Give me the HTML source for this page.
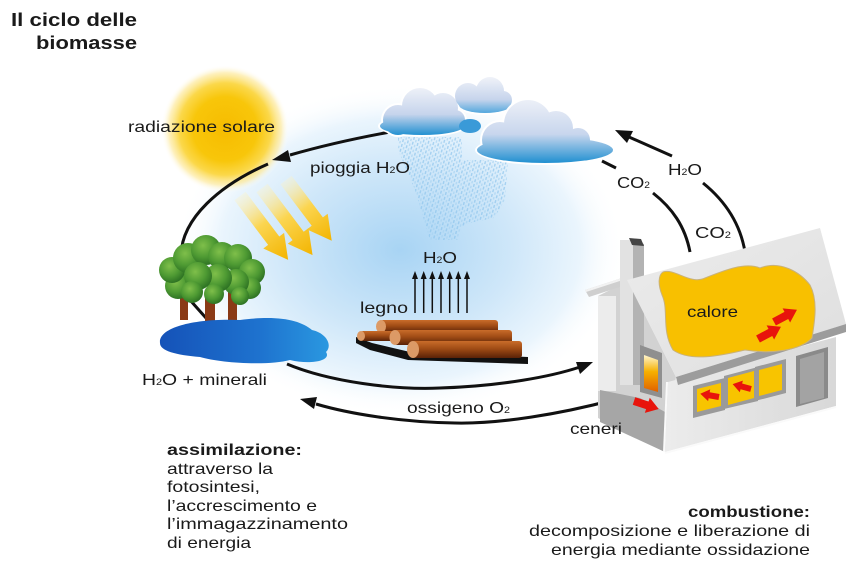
<!DOCTYPE html>
<html><head><meta charset="utf-8">
<style>
html,body{margin:0;padding:0;background:#fff;}
svg{display:block;}
text{font-family:"Liberation Sans",sans-serif;fill:#1a1a1a;}
</style></head>
<body>
<svg width="855" height="576" viewBox="0 0 855 576" xmlns="http://www.w3.org/2000/svg">
<defs>
  <radialGradient id="glow" cx="0.5" cy="0.5" r="0.5">
    <stop offset="0" stop-color="#a8d4f4"/>
    <stop offset="0.5" stop-color="#cfe7f9"/>
    <stop offset="0.8" stop-color="#eaf5fd"/>
    <stop offset="1" stop-color="#ffffff" stop-opacity="0"/>
  </radialGradient>
  <radialGradient id="sun" cx="0.5" cy="0.5" r="0.5">
    <stop offset="0" stop-color="#f6bc00"/>
    <stop offset="0.5" stop-color="#f8c60a"/>
    <stop offset="0.72" stop-color="#fbd84a"/>
    <stop offset="0.88" stop-color="#fdeaa0" stop-opacity="0.7"/>
    <stop offset="1" stop-color="#ffffff" stop-opacity="0"/>
  </radialGradient>
  <linearGradient id="ray" x1="0" y1="0" x2="1" y2="0">
    <stop offset="0" stop-color="#fff3c0" stop-opacity="0.3"/>
    <stop offset="0.45" stop-color="#fbd550"/>
    <stop offset="1" stop-color="#f3b400"/>
  </linearGradient>
  <linearGradient id="c1" gradientUnits="userSpaceOnUse" x1="0" y1="88" x2="0" y2="136">
    <stop offset="0" stop-color="#eef1f8"/><stop offset="0.55" stop-color="#c6d4ec"/><stop offset="1" stop-color="#1a8dd0"/>
  </linearGradient>
  <linearGradient id="c2" gradientUnits="userSpaceOnUse" x1="0" y1="78" x2="0" y2="114">
    <stop offset="0" stop-color="#eef1f8"/><stop offset="0.6" stop-color="#c6d4ec"/><stop offset="1" stop-color="#4aa4dc"/>
  </linearGradient>
  <linearGradient id="c3" gradientUnits="userSpaceOnUse" x1="0" y1="98" x2="0" y2="164">
    <stop offset="0" stop-color="#eef1f8"/><stop offset="0.55" stop-color="#c8d6ed"/><stop offset="1" stop-color="#1a8dd0"/>
  </linearGradient>
  <pattern id="rain" width="5" height="5" patternUnits="userSpaceOnUse" patternTransform="rotate(15)">
    <rect x="0" y="0" width="1.4" height="3" fill="#8cc4ec"/>
    <rect x="2.5" y="2.5" width="1.4" height="3" fill="#a6d2f1"/>
  </pattern>
  <radialGradient id="leaf" cx="0.4" cy="0.35" r="0.65">
    <stop offset="0" stop-color="#7fbf4a"/><stop offset="0.6" stop-color="#4e9a33"/><stop offset="1" stop-color="#2f7424"/>
  </radialGradient>
  <linearGradient id="pond" x1="0" y1="0" x2="1" y2="0">
    <stop offset="0" stop-color="#1552b8"/><stop offset="0.6" stop-color="#1e73cf"/><stop offset="1" stop-color="#2a98e0"/>
  </linearGradient>
  <linearGradient id="log" x1="0" y1="0" x2="0" y2="1">
    <stop offset="0" stop-color="#c96c2a"/><stop offset="0.45" stop-color="#a04c15"/><stop offset="1" stop-color="#5a2207"/>
  </linearGradient>
  <linearGradient id="fire" x1="0" y1="0" x2="0" y2="1">
    <stop offset="0" stop-color="#fff6d0"/><stop offset="0.45" stop-color="#f6b000"/><stop offset="1" stop-color="#e06000"/>
  </linearGradient>
  <linearGradient id="wall" x1="0" y1="0" x2="1" y2="0">
    <stop offset="0" stop-color="#ececec"/><stop offset="1" stop-color="#d8d8d8"/>
  </linearGradient>
  <linearGradient id="roof" x1="0" y1="0" x2="1" y2="1">
    <stop offset="0" stop-color="#ececec"/><stop offset="1" stop-color="#dedede"/>
  </linearGradient>
</defs>

<!-- background glow -->
<ellipse cx="400" cy="250" rx="225" ry="165" fill="url(#glow)"/>

<!-- sun -->
<circle cx="225" cy="129" r="64" fill="url(#sun)"/>

<!-- sun rays -->
<g fill="url(#ray)">
  <polygon transform="translate(240,196) rotate(53)" points="0,-7 56,-7 56,-13 80,0 56,13 56,7 0,7"/>
  <polygon transform="translate(262,188) rotate(53)" points="0,-7 60,-7 60,-13 84,0 60,13 60,7 0,7"/>
  <polygon transform="translate(286,180) rotate(53)" points="0,-7 52,-7 52,-13 76,0 52,13 52,7 0,7"/>
</g>

<!-- cycle connectors -->
<g fill="none" stroke="#111" stroke-width="3" stroke-linecap="butt">
  <path d="M390 132 Q335 142 290 155"/>
  <path d="M268 164 C222 184 180 218 181 258 L190 300 L206 318"/>
  <path d="M287 364 C330 382 395 390 440 388 C500 386 550 377 580 367"/>
  <path d="M613 400 C560 414 500 424 455 423 C400 422 350 414 316 404"/>
  <path d="M672 156 L629 137"/>
  <path d="M703 183 C724 200 740 222 745 252"/>
  <path d="M602 161 L616 168"/>
  <path d="M653 193 C672 208 685 226 690 252"/>
</g>
<g fill="#111">
  <polygon points="272,160 291,162 288,150"/>
  <polygon points="593,362 576,362 580,374"/>
  <polygon points="300,399 317,397 314,409"/>
  <polygon points="615,130 633,131 627,143"/>
</g>

<!-- trees -->
<g fill="#8a3a16">
  <rect x="180" y="292" width="8" height="28"/>
  <rect x="205" y="295" width="10" height="28"/>
  <rect x="228" y="290" width="9" height="30"/>
</g>
<g fill="url(#leaf)">
  <circle cx="178" cy="286" r="13"/>
  <circle cx="172" cy="270" r="13"/>
  <circle cx="188" cy="258" r="15"/>
  <circle cx="206" cy="250" r="15"/>
  <circle cx="222" cy="256" r="14"/>
  <circle cx="238" cy="258" r="14"/>
  <circle cx="252" cy="272" r="13"/>
  <circle cx="250" cy="288" r="11"/>
  <circle cx="236" cy="282" r="13"/>
  <circle cx="218" cy="278" r="14"/>
  <circle cx="198" cy="276" r="14"/>
  <circle cx="192" cy="292" r="11"/>
  <circle cx="214" cy="294" r="10"/>
  <circle cx="240" cy="296" r="9"/>
</g>

<!-- pond -->
<path d="M160 343 C158 326 200 318 240 320 C278 315 300 320 312 330 C326 333 333 345 326 352 C332 361 310 365 290 360 C268 366 220 363 200 357 C176 355 160 351 160 343 Z" fill="url(#pond)"/>

<!-- rain -->
<polygon points="398,137 462,137 462,160 508,160 505,200 494,218 474,222 462,226 458,240 430,240 415,190 398,150" fill="url(#rain)" opacity="0.7"/>

<!-- clouds -->
<g fill="#fff">
  <circle cx="398" cy="120" r="17"/><circle cx="420" cy="106" r="20"/><circle cx="443" cy="108" r="17"/><circle cx="455" cy="120" r="12"/><ellipse cx="422" cy="126" rx="44" ry="11"/>
  <circle cx="468" cy="96" r="15"/><circle cx="490" cy="91" r="16"/><circle cx="503" cy="100" r="11"/><ellipse cx="485" cy="105" rx="28" ry="10"/>
</g>
<g fill="url(#c1)">
  <circle cx="398" cy="120" r="15"/><circle cx="420" cy="106" r="18"/><circle cx="443" cy="108" r="15"/><circle cx="455" cy="120" r="10"/><ellipse cx="422" cy="126" rx="42" ry="9"/>
</g>
<g fill="url(#c2)">
  <circle cx="468" cy="96" r="13"/><circle cx="490" cy="91" r="14"/><circle cx="503" cy="100" r="9"/><ellipse cx="485" cy="105" rx="26" ry="8"/>
</g>
<ellipse cx="470" cy="126" rx="11" ry="7" fill="#3a9ad8"/>
<g fill="#fff">
  <circle cx="500" cy="140" r="20"/><circle cx="528" cy="124" r="26"/><circle cx="556" cy="128" r="19"/><circle cx="578" cy="140" r="14"/><ellipse cx="545" cy="150" rx="70" ry="15"/>
</g>
<g fill="url(#c3)">
  <circle cx="500" cy="140" r="18"/><circle cx="528" cy="124" r="24"/><circle cx="556" cy="128" r="17"/><circle cx="578" cy="140" r="12"/><ellipse cx="545" cy="150" rx="68" ry="13"/>
</g>

<!-- logs -->
<polygon points="356,337 372,343 410,352 528,357 528,364 408,360 370,350 356,343" fill="#111"/>
<g>
  <rect x="380" y="320" width="118" height="13" rx="3" fill="url(#log)"/>
  <ellipse cx="381" cy="326.5" rx="5" ry="6.5" fill="#dc9a66"/>
  <rect x="360" y="331" width="40" height="10" rx="3" fill="url(#log)"/>
  <ellipse cx="361" cy="336" rx="4" ry="5" fill="#dc9a66"/>
  <rect x="394" y="330" width="118" height="15" rx="3" fill="url(#log)"/>
  <ellipse cx="395" cy="337.5" rx="5.5" ry="7.5" fill="#dc9a66"/>
  <rect x="412" y="341" width="110" height="17" rx="3" fill="url(#log)"/>
  <ellipse cx="413" cy="349.5" rx="6" ry="8.5" fill="#dc9a66"/>
</g>

<!-- evaporation arrows -->
<g stroke="#111" stroke-width="1.5">
  <line x1="415" y1="313" x2="415" y2="277"/><line x1="423.7" y1="313" x2="423.7" y2="277"/>
  <line x1="432.3" y1="313" x2="432.3" y2="277"/><line x1="441" y1="313" x2="441" y2="277"/>
  <line x1="449.7" y1="313" x2="449.7" y2="277"/><line x1="458.3" y1="313" x2="458.3" y2="277"/>
  <line x1="467" y1="313" x2="467" y2="277"/>
</g>
<g fill="#111">
  <polygon points="415,271 412,279 418,279"/><polygon points="423.7,271 420.7,279 426.7,279"/>
  <polygon points="432.3,271 429.3,279 435.3,279"/><polygon points="441,271 438,279 444,279"/>
  <polygon points="449.7,271 446.7,279 452.7,279"/><polygon points="458.3,271 455.3,279 461.3,279"/>
  <polygon points="467,271 464,279 470,279"/>
</g>

<!-- house -->
<polygon points="598,296 628,281 676,377 665,452 598,418" fill="#d2d2d2"/>
<rect x="598" y="296" width="18" height="95" fill="#ececec"/>
<polygon points="585,290 628,276 632,283 589,297" fill="#cfcfcf"/>
<polygon points="585,290 628,276 629,278 586,292" fill="#f2f2f2"/>
<rect x="620" y="240" width="13" height="145" fill="#e2e2e2"/>
<polygon points="633,240 644,244 644,385 633,385" fill="#b3b3b3"/>
<polygon points="629,238 641,239 644,246 632,245" fill="#444"/>
<polygon points="600,390 640,398 665,412 665,452 600,422" fill="#a6a6a6"/>
<polygon points="640,345 662,353 662,398 640,392" fill="#8f8f8f"/>
<polygon points="644,355 658,360 658,392 644,388" fill="url(#fire)"/>
<polygon points="668,382 836,337 836,406 665,452" fill="url(#wall)"/>
<line x1="667" y1="382" x2="664" y2="452" stroke="#fafafa" stroke-width="2"/>
<line x1="665" y1="453" x2="836" y2="407" stroke="#fafafa" stroke-width="2"/>
<!-- windows -->
<polygon points="693,386 725,378 725,410 693,418" fill="#9a9a9a"/>
<polygon points="697,389 721,383 721,406 697,412" fill="#f8c400"/>
<polygon points="724,376 758,367 758,401 724,409" fill="#9a9a9a"/>
<polygon points="728,378 754,371 754,398 728,405" fill="#f8c400"/>
<polygon points="755,367 786,359 786,393 755,401" fill="#9a9a9a"/>
<polygon points="759,370 782,364 782,390 759,396" fill="#f8c400"/>
<!-- door -->
<polygon points="796,356 828,347 828,398 796,407" fill="#8a8a8a"/>
<polygon points="800,359 824,352 824,398 800,404" fill="#a3a3a3"/>
<!-- roof -->
<polygon points="627,280 820,228 846,324 676,377" fill="url(#roof)"/>
<polygon points="676,377 846,324 846,332 678,385" fill="#9c9c9c"/>
<!-- calore blob -->
<path d="M663 272 C675 268 690 285 705 278 C725 270 745 262 760 268 C780 260 800 272 810 285 C818 300 815 320 812 338 C800 351 770 354 745 350 C720 356 690 362 673 350 C661 330 669 310 662 295 C658 285 658 275 663 272 Z" fill="#f8c000" stroke="#c9b27a" stroke-width="1"/>
<!-- red arrows -->
<g fill="#e8140c">
  <polygon transform="translate(774,322) rotate(-28)" points="0,-4 14,-4 14,-8 26,0 14,8 14,4 0,4"/>
  <polygon transform="translate(758,339) rotate(-28)" points="0,-4 14,-4 14,-8 26,0 14,8 14,4 0,4"/>
  <polygon transform="translate(719,397) rotate(190)" points="0,-3 10,-3 10,-6 19,0 10,6 10,3 0,3"/>
  <polygon transform="translate(751,389) rotate(195)" points="0,-3 10,-3 10,-6 19,0 10,6 10,3 0,3"/>
  <polygon transform="translate(634,401) rotate(18)" points="0,-4 14,-4 14,-8 26,0 14,8 14,4 0,4"/>
</g>

<!-- labels -->
<text x="137" y="26" text-anchor="end" font-size="18" font-weight="bold" textLength="126" lengthAdjust="spacingAndGlyphs">Il ciclo delle</text>
<text x="137" y="49" text-anchor="end" font-size="18" font-weight="bold" textLength="101" lengthAdjust="spacingAndGlyphs">biomasse</text>

<text x="128" y="132" font-size="16" textLength="147" lengthAdjust="spacingAndGlyphs">radiazione solare</text>
<text x="310" y="173" font-size="16" textLength="100" lengthAdjust="spacingAndGlyphs">pioggia H<tspan font-size="9">2</tspan>O</text>
<text x="668" y="175" font-size="16" textLength="34" lengthAdjust="spacingAndGlyphs">H<tspan font-size="9">2</tspan>O</text>
<text x="617" y="188" font-size="16" textLength="33" lengthAdjust="spacingAndGlyphs">CO<tspan font-size="9">2</tspan></text>
<text x="695" y="238" font-size="16" textLength="36" lengthAdjust="spacingAndGlyphs">CO<tspan font-size="9">2</tspan></text>
<text x="423" y="263" font-size="16" textLength="34" lengthAdjust="spacingAndGlyphs">H<tspan font-size="9">2</tspan>O</text>
<text x="360" y="313" font-size="16" textLength="48" lengthAdjust="spacingAndGlyphs">legno</text>
<text x="687" y="317" font-size="16" textLength="51" lengthAdjust="spacingAndGlyphs">calore</text>
<text x="142" y="385" font-size="16" textLength="125" lengthAdjust="spacingAndGlyphs">H<tspan font-size="9">2</tspan>O + minerali</text>
<text x="407" y="413" font-size="16" textLength="103" lengthAdjust="spacingAndGlyphs">ossigeno O<tspan font-size="9">2</tspan></text>
<text x="570" y="434" font-size="16" textLength="52" lengthAdjust="spacingAndGlyphs">ceneri</text>

<text x="167" y="455" font-size="16" font-weight="bold" textLength="135" lengthAdjust="spacingAndGlyphs">assimilazione:</text>
<text x="167" y="474" font-size="16" textLength="106" lengthAdjust="spacingAndGlyphs">attraverso la</text>
<text x="167" y="492" font-size="16" textLength="93" lengthAdjust="spacingAndGlyphs">fotosintesi,</text>
<text x="167" y="511" font-size="16" textLength="150" lengthAdjust="spacingAndGlyphs">l’accrescimento e</text>
<text x="167" y="529" font-size="16" textLength="181" lengthAdjust="spacingAndGlyphs">l’immagazzinamento</text>
<text x="167" y="548" font-size="16" textLength="84" lengthAdjust="spacingAndGlyphs">di energia</text>

<text x="810" y="517" text-anchor="end" font-size="16" font-weight="bold" textLength="122" lengthAdjust="spacingAndGlyphs">combustione:</text>
<text x="810" y="536" text-anchor="end" font-size="16" textLength="281" lengthAdjust="spacingAndGlyphs">decomposizione e liberazione di</text>
<text x="810" y="555" text-anchor="end" font-size="16" textLength="259" lengthAdjust="spacingAndGlyphs">energia mediante ossidazione</text>
</svg>
</body></html>
